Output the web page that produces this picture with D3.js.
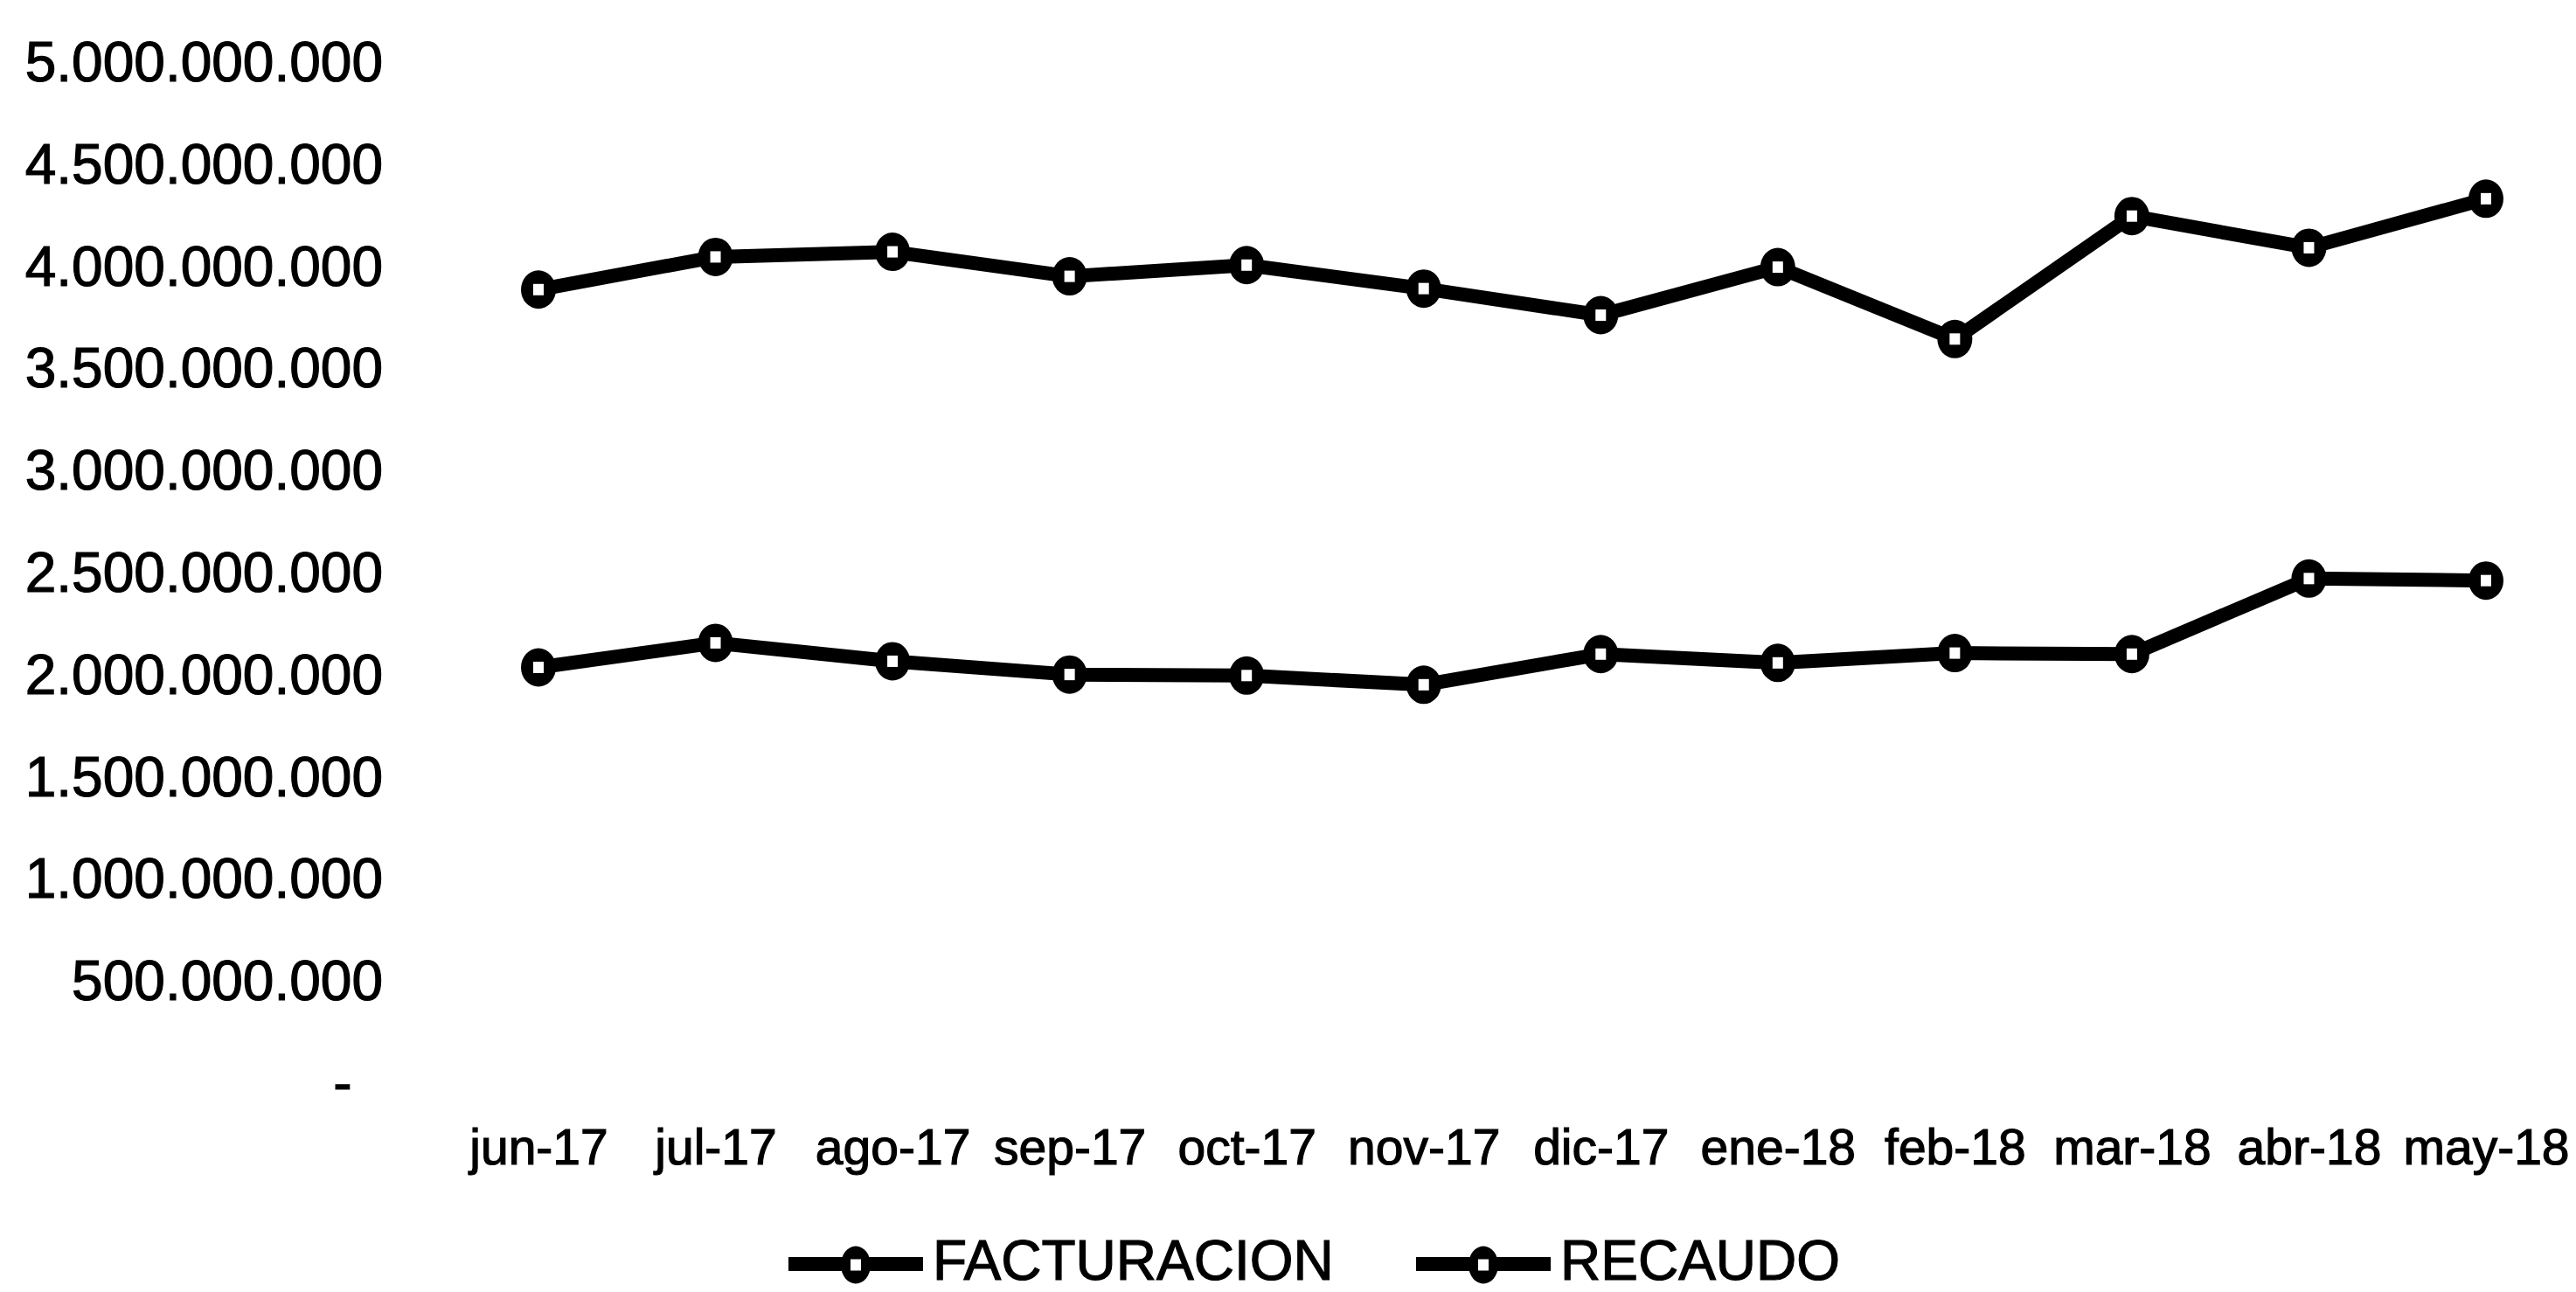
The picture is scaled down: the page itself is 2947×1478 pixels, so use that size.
<!DOCTYPE html>
<html>
<head>
<meta charset="utf-8">
<script src="https://cdn.jsdelivr.net/npm/d3@7/dist/d3.min.js"></script>
<style>
  html, body { margin: 0; padding: 0; background: #ffffff; }
  svg { display: block; }
  text { font-family: "Liberation Sans", Arial, sans-serif; fill: #000; stroke: #000; stroke-width: 1.2px; }
</style>
</head>
<body>
<script>
// Monthly billing (FACTURACION) vs. collections (RECAUDO), jun-17 .. may-18
const months = ["jun-17", "jul-17", "ago-17", "sep-17", "oct-17", "nov-17",
                "dic-17", "ene-18", "feb-18", "mar-18", "abr-18", "may-18"];
const facturacion = [3890000000, 4050000000, 4075000000, 3955000000, 4010000000, 3895000000,
                     3765000000, 4000000000, 3648000000, 4250000000, 4095000000, 4335000000];
const recaudo = [2040000000, 2160000000, 2070000000, 2005000000, 2000000000, 1955000000,
                 2105000000, 2062000000, 2110000000, 2105000000, 2475000000, 2465000000];
const yTicks = [0, 500000000, 1000000000, 1500000000, 2000000000, 2500000000,
                3000000000, 3500000000, 4000000000, 4500000000, 5000000000];
const seriesNames = ["FACTURACION", "RECAUDO"];

const W = 2947, H = 1478;
const svg = d3.select("body").append("svg").attr("width", W).attr("height", H);
svg.append("rect").attr("width", W).attr("height", H).attr("fill", "#fff");

const x = d3.scalePoint().domain(months).range([616, 2844]);
const y = d3.scaleLinear().domain([0, 5000000000]).range([1240, 72]);

// thousands separated with dots; zero shown as a dash (accounting style)
const fmt = d3.formatLocale({ decimal: ",", thousands: ".", grouping: [3], currency: ["$", ""] }).format(",d");
const yFormat = v => v === 0 ? "-\u00a0\u00a0" : fmt(v);

// Y axis: labels only
const gy = svg.append("g").attr("transform", "translate(438,0)")
  .call(d3.axisLeft(y).tickValues(yTicks).tickFormat(yFormat).tickSize(0).tickPadding(0));
gy.select(".domain").remove();
gy.selectAll("text").attr("font-size", 64).attr("font-family", "Liberation Sans, Arial, sans-serif")
  .attr("fill", "#000").attr("dy", "0.32em");

// X axis: labels only
const gx = svg.append("g").attr("transform", "translate(0,1332)")
  .call(d3.axisBottom(x).tickSize(0).tickPadding(0));
gx.select(".domain").remove();
gx.selectAll("text").attr("font-size", 57).attr("font-family", "Liberation Sans, Arial, sans-serif")
  .attr("fill", "#000").attr("y", 0).attr("dy", 0);

const line = d3.line().x((d, i) => x(months[i])).y(d => y(d));

function marker(g, cx, cy, rx, ry) {
  g.append("ellipse").attr("cx", cx).attr("cy", cy).attr("rx", rx).attr("ry", ry).attr("fill", "#000");
  g.append("rect").attr("x", cx - 6).attr("y", cy - 6.5).attr("width", 12).attr("height", 13).attr("fill", "#fff");
}

[facturacion, recaudo].forEach(vals => {
  const g = svg.append("g");
  g.append("path").datum(vals).attr("d", line)
    .attr("fill", "none").attr("stroke", "#000").attr("stroke-width", 16)
    .attr("stroke-linejoin", "round");
  vals.forEach((v, i) => marker(g, x(months[i]), y(v), 20, 22));
});

// Legend
const legend = svg.append("g");
const legendItems = [
  { name: seriesNames[0], x0: 902 },
  { name: seriesNames[1], x0: 1620 }
];
legendItems.forEach(it => {
  const cy = 1446;
  legend.append("line").attr("x1", it.x0).attr("x2", it.x0 + 154).attr("y1", cy).attr("y2", cy)
    .attr("stroke", "#000").attr("stroke-width", 16);
  marker(legend, it.x0 + 77, cy + 1, 17, 21.5);
  legend.append("text").attr("x", it.x0 + 165).attr("y", 1464)
    .attr("font-size", 64).text(it.name);
});
</script>
</body>
</html>
